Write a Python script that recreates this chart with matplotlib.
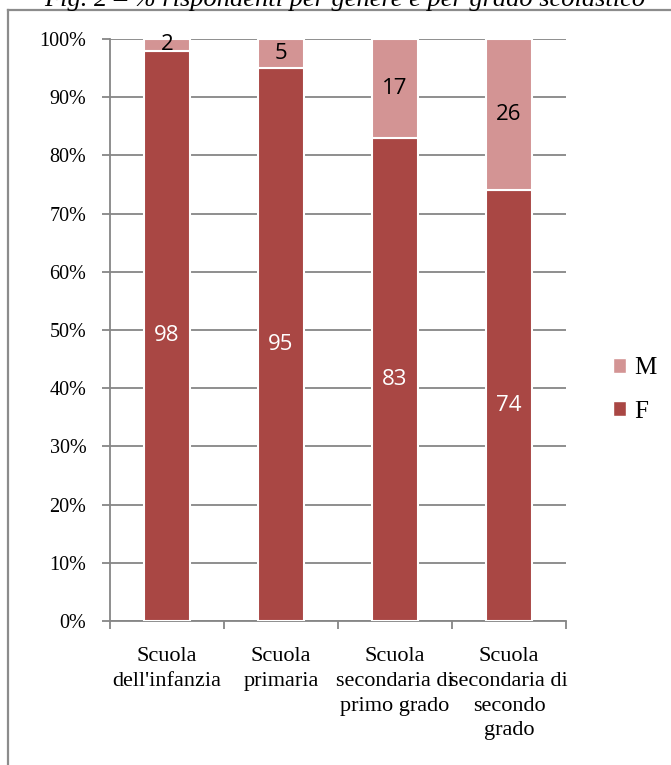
import numpy as np
import matplotlib.pyplot as plt
from matplotlib.patches import Patch

# % respondents by gender and school level
categories = ["Scuola\ndell'infanzia", "Scuola\nprimaria",
              "Scuola\nsecondaria di\nprimo grado",
              "Scuola\nsecondaria di\nsecondo\ngrado"]
female = [98, 95, 83, 74]
male = [2, 5, 17, 26]

col_f = '#A94744'
col_m = '#D39494'
grid_col = '#868686'

W, H = 671, 765
fig = plt.figure(figsize=(W / 100, H / 100), dpi=100)
serif = 'Liberation Serif'

# caption, partly cut off at the top edge
fig.text(345 / W, 1 - 6 / H, "Fig. 2 \u2013 % rispondenti per genere e per grado scolastico",
         ha='center', va='baseline', fontsize=19, style='italic', family=serif)

# frame around the chart (open on right and bottom)
fig.add_artist(plt.Line2D([8 / W, 8 / W], [0, 1 - 10 / H], transform=fig.transFigure,
                          color='#8c8c8c', lw=1.6))
fig.add_artist(plt.Line2D([8 / W, 1], [1 - 10 / H, 1 - 10 / H], transform=fig.transFigure,
                          color='#8c8c8c', lw=1.6))

ax = fig.add_axes([110 / W, 1 - 621 / H, 456 / W, 582 / H])
x = np.arange(len(categories))
bw = 0.4
ax.bar(x, female, bw, color=col_f, edgecolor='white', linewidth=1.5, zorder=3)
ax.bar(x, male, bw, bottom=female, color=col_m, edgecolor='white', linewidth=1.5, zorder=3)

for i in range(len(categories)):
    ax.text(x[i], female[i] / 2, str(female[i]), ha='center', va='center',
            color='white', fontsize=16, family='Open Sans', zorder=4)
    ax.text(x[i], female[i] + male[i] / 2, str(male[i]), ha='center', va='center',
            color='black', fontsize=16, family='Open Sans', zorder=4)

ax.set_xlim(-0.5, len(categories) - 0.5)
ax.set_ylim(0, 100)
ax.set_yticks(np.arange(0, 101, 10))
ax.set_yticklabels([f'{v}%' for v in range(0, 101, 10)], family=serif, fontsize=14.5)
ax.yaxis.grid(True, color=grid_col, lw=1.3, zorder=0)
ax.set_axisbelow(True)

ax.set_xticks(np.arange(-0.5, len(categories), 1))
ax.set_xticklabels([])
ax.set_xticks(x, minor=True)
ax.set_xticklabels(categories, minor=True, family=serif, fontsize=16, linespacing=1.4)
ax.tick_params(axis='x', which='major', length=6, color=grid_col, width=1.3)
ax.tick_params(axis='x', which='minor', length=0, pad=19)
ax.tick_params(axis='y', length=6, color=grid_col, width=1.3, pad=11)

for s in ['top', 'right']:
    ax.spines[s].set_visible(False)
for s in ['left', 'bottom']:
    ax.spines[s].set_color(grid_col)
    ax.spines[s].set_linewidth(1.3)

handles = [Patch(facecolor=col_m, edgecolor='white', label='M'),
           Patch(facecolor=col_f, edgecolor='white', label='F')]
fig.legend(handles=handles, loc='center left', bbox_to_anchor=(590 / W, 1 - 390 / H),
           frameon=False, prop={'family': serif, 'size': 18},
           handlelength=0.55, handleheight=0.55, handletextpad=0.3, labelspacing=0.85)

fig.savefig('out.png', dpi=100)
